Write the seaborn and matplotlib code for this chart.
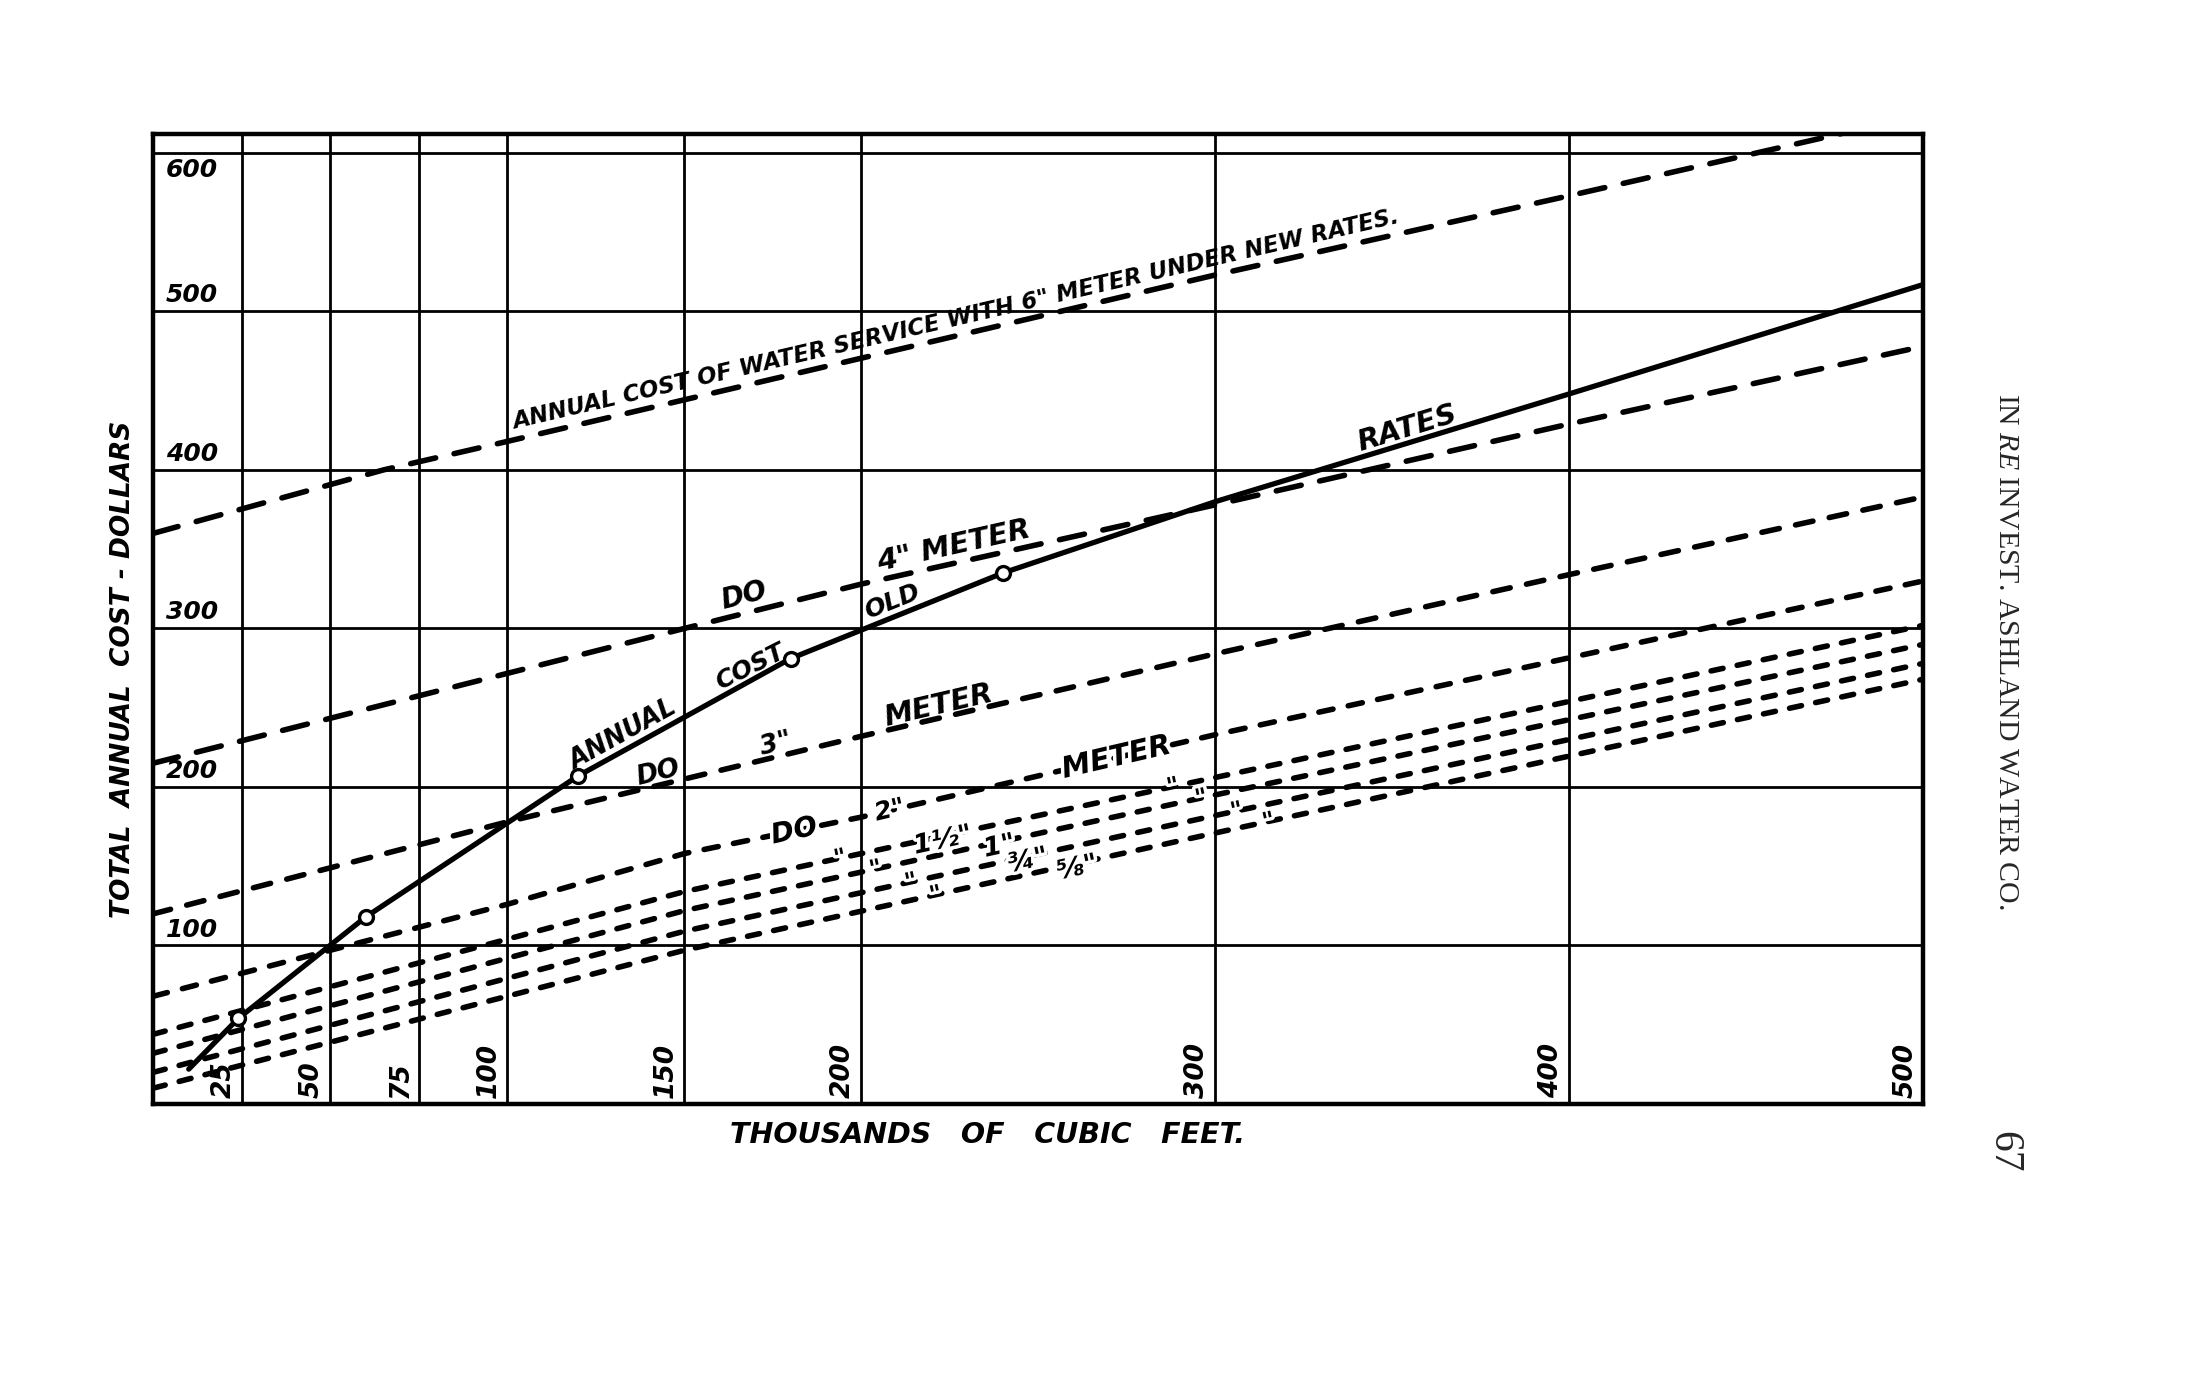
import numpy as np
import matplotlib
matplotlib.use("Agg")
import matplotlib.pyplot as plt
import matplotlib.patheffects as pe
import seaborn as sns

# values: thousands of cubic feet -> total annual cost in dollars
x_6in = [0, 65, 100, 300, 400, 500]
y_6in = [360, 400, 418, 523, 573, 624]
x_4in = [0, 150, 200, 300, 400, 500]
y_4in = [215, 300, 328, 378, 429, 478]
x_3in = [0, 100, 200, 300, 400, 500]
y_3in = [120, 178, 232, 284, 334, 383]
x_2in = [0, 100, 150, 200, 300, 500]
y_2in = [68, 126, 158, 181, 233, 330]
x_small = [0, 150, 300, 500]
y_1half = [44, 134, 206, 302]
y_1in = [32, 122, 195, 290]
y_3q = [20, 109, 182, 278]
y_5e = [10, 97, 171, 268]

x_old = [10, 24, 60, 120, 180, 240, 300, 400, 500]
y_old = [22, 54, 118, 207, 281, 335, 380, 448, 517]
x_pts = [24, 60, 120, 180, 240]
y_pts = [54, 118, 207, 281, 335]

x_grid = [25, 50, 75, 100, 150, 200, 300, 400, 500]
y_grid = [100, 200, 300, 400, 500, 600]

sns.set_theme(style="white")
plt.rcParams['font.family'] = ['DejaVu Sans']
plt.rcParams['mathtext.fontset'] = 'custom'
plt.rcParams['mathtext.rm'] = 'Liberation Serif'
plt.rcParams['mathtext.it'] = 'Liberation Serif:italic'

fig = plt.figure(figsize=(21.97, 13.8), dpi=100)
ax = fig.add_axes([0.0698, 0.2, 0.8057, 0.703])
ax.set_xlim(0, 500)
ax.set_ylim(0, 612)
ax.set_xticks(x_grid)
ax.set_yticks(y_grid)
ax.grid(True, color='black', linewidth=2)
ax.tick_params(length=0, labelbottom=False, labelleft=False)
for sp in ax.spines.values():
    sp.set_color('black')
    sp.set_linewidth(3.2)

lw = 4
meters = [
    (x_6in, y_6in, (4.6, 3.4)),
    (x_4in, y_4in, (4.6, 3.4)),
    (x_3in, y_3in, (3.2, 3.0)),
    (x_2in, y_2in, (2.6, 2.8)),
    (x_small, y_1half, (2.2, 2.6)),
    (x_small, y_1in, (2.2, 2.6)),
    (x_small, y_3q, (2.2, 2.6)),
    (x_small, y_5e, (2.2, 2.6)),
]
for xs, ys, dash in meters:
    sns.lineplot(x=xs, y=ys, ax=ax, color='black', linewidth=lw,
                 linestyle=(0, dash), dash_capstyle='round')

sns.lineplot(x=x_old, y=y_old, ax=ax, color='black', linewidth=3.8,
             solid_capstyle='round')
sns.scatterplot(x=x_pts, y=y_pts, ax=ax, s=100, facecolor='white',
                edgecolor='black', linewidth=2.4, zorder=5)

letter = dict(fontweight='bold', style='italic', color='black')
halo = [pe.withStroke(linewidth=5, foreground='white')]


def on_line(xs, ys, x0, s, dy=0, va='baseline', ha='left', size=18,
            span=30, white=False):
    y0 = np.interp(x0, xs, ys) + dy
    slope = (np.interp(x0 + span, xs, ys) - np.interp(x0, xs, ys)) / span
    t = ax.text(x0, y0, s, rotation=np.degrees(np.arctan(slope)),
                rotation_mode='anchor', transform_rotates_text=True,
                ha=ha, va=va, fontsize=size, zorder=6, **letter)
    if white:
        t.set_path_effects(halo)
    return t


on_line(x_6in, y_6in, 102, 'ANNUAL COST OF WATER SERVICE WITH 6" METER UNDER NEW RATES.',
        dy=7, size=16.5, span=250)
on_line(x_4in, y_4in, 161, 'DO', dy=6, size=20)
on_line(x_4in, y_4in, 205, '4" METER', dy=6, size=21)
on_line(x_old, y_old, 119, 'ANNUAL', dy=5, size=18.5)
on_line(x_old, y_old, 160, 'COST', dy=5, size=18)
on_line(x_old, y_old, 202, 'OLD', dy=5, size=18)
on_line(x_old, y_old, 341, 'RATES', dy=4, size=21)
on_line(x_3in, y_3in, 137, 'DO', dy=3, size=19)
on_line(x_3in, y_3in, 172, '3"', dy=3, size=19)
on_line(x_3in, y_3in, 207, 'METER', dy=3, size=21)
on_line(x_2in, y_2in, 181, 'DO', va='center', ha='center', size=20, white=True)
on_line(x_2in, y_2in, 208, '2"', va='center', ha='center', size=18, white=True)
on_line(x_2in, y_2in, 272, 'METER', va='center', ha='center', size=21, white=True)

small = [
    (y_1half, [194, 288], 223, '1½"'),
    (y_1in, [204, 296], 239, '1"'),
    (y_3q, [214, 306], 247, '¾"'),
    (y_5e, [221, 315], 261, '⅝"'),
]
for ys, dittos, xl, lab in small:
    for xd in dittos:
        on_line(x_small, ys, xd, '"', va='center', ha='center', size=17, white=True)
    on_line(x_small, ys, xl, lab, dy=-3, va='center', ha='center', size=19, white=True)

for v in y_grid:
    if v == 600:
        ax.text(3.5, v - 3, str(v), ha='left', va='top', fontsize=18, zorder=6, **letter)
    else:
        ax.text(3.5, v + 2.5, str(v), ha='left', va='bottom', fontsize=18, zorder=6, **letter)
for v in x_grid:
    ax.text(v - 1.5, 4, str(v), rotation=90, ha='right', va='bottom',
            fontsize=19, zorder=6, **letter)

fig.text(0.056, 0.515, 'TOTAL  ANNUAL  COST - DOLLARS', rotation=90,
         ha='center', va='center', fontsize=19, **letter)
fig.text(0.4497, 0.1775, 'THOUSANDS   OF   CUBIC   FEET.', ha='center',
         va='center', fontsize=20.5, **letter)
fig.text(0.913, 0.528, r'IN $\mathit{RE}$ INVEST. ASHLAND WATER CO.', rotation=-90,
         ha='center', va='center', family='Liberation Serif', fontsize=21.5)
fig.text(0.912, 0.165, '67', rotation=-90, ha='center', va='center',
         family='Liberation Serif', fontsize=30)

fig.savefig('out.png', dpi=100)
